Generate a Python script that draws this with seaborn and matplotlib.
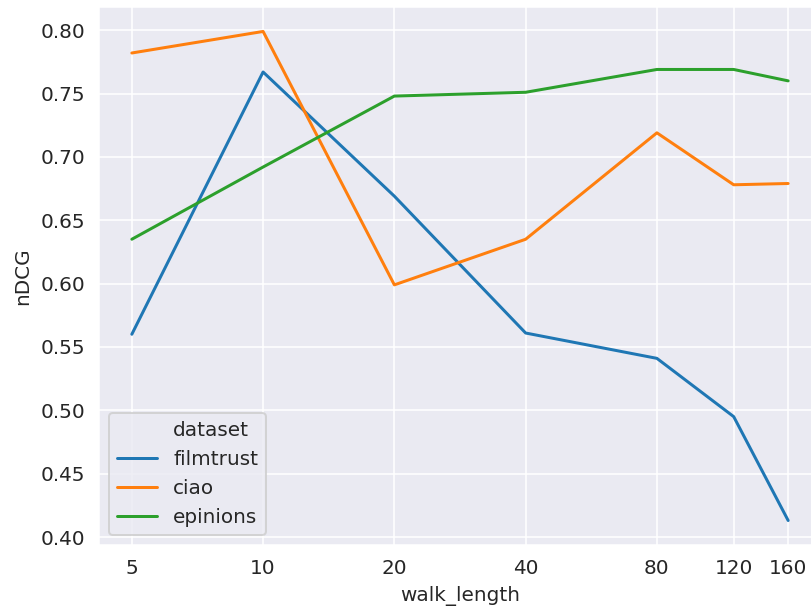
import numpy as np
import pandas as pd
import seaborn as sns
import matplotlib.pyplot as plt
from matplotlib.lines import Line2D

# values
walk_length = [5, 10, 20, 40, 80, 120, 160]
filmtrust = [0.560, 0.767, 0.669, 0.561, 0.541, 0.495, 0.413]
ciao = [0.782, 0.799, 0.599, 0.635, 0.719, 0.678, 0.679]
epinions = [0.635, 0.692, 0.748, 0.751, 0.769, 0.769, 0.760]
datasets = ['filmtrust', 'ciao', 'epinions']

df = pd.concat([
    pd.DataFrame({'walk_length': walk_length, 'nDCG': vals, 'dataset': name})
    for name, vals in zip(datasets, [filmtrust, ciao, epinions])
])

# style only, matplotlib default font sizes
sns.set_style('darkgrid')
plt.rcParams['font.family'] = ['DejaVu Sans']

dpi = 144
fig = plt.figure(figsize=(811 / dpi, 610 / dpi), dpi=dpi)
ax = fig.add_axes([99 / 811, 65 / 610, 722 / 811, 538 / 610])

sns.lineplot(data=df, x='walk_length', y='nDCG', hue='dataset',
             palette='tab10', ax=ax)
ax.set_xscale('log')
ax.set_xticks(walk_length)
ax.set_xticklabels([str(w) for w in walk_length])
ax.minorticks_off()

# old-style seaborn legend: title shown as an entry
lines, labels = ax.get_legend_handles_labels()
handles = [Line2D([], [], linestyle='')] + lines
ax.legend(handles, ['dataset'] + labels, loc='lower left')

plt.savefig('out.png', dpi=dpi)
